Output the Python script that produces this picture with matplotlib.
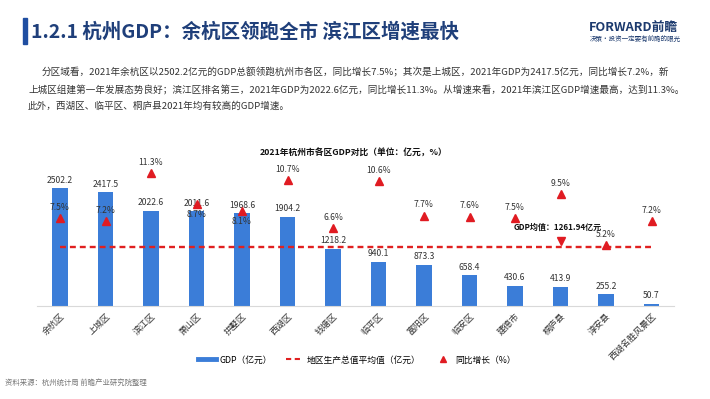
import matplotlib
matplotlib.use("Agg")
import matplotlib.pyplot as plt
import matplotlib.transforms as mtransforms
from matplotlib.lines import Line2D

plt.rcParams['font.family'] = ['Noto Sans CJK SC', 'DejaVu Sans']

districts = ["余杭区", "上城区", "滨江区", "萧山区", "拱墅区", "西湖区", "钱塘区",
             "临平区", "富阳区", "临安区", "建德市", "桐庐县", "淳安县", "西湖名胜风景区"]
gdp = [2502.2, 2417.5, 2022.6, 2011.6, 1968.6, 1904.2, 1218.2,
       940.1, 873.3, 658.4, 430.6, 413.9, 255.2, 50.7]
growth = [7.5, 7.2, 11.3, 8.7, 8.1, 10.7, 6.6, 10.6, 7.7, 7.6, 7.5, 9.5, 5.2, 7.2]
gdp_avg = 1261.94
below_labels = [3, 4]

title = "1.2.1 杭州GDP：余杭区领跑全市 滨江区增速最快"
para = ["分区域看，2021年余杭区以2502.2亿元的GDP总额领跑杭州市各区，同比增长7.5%；其次是上城区，2021年GDP为2417.5亿元，同比增长7.2%，新",
        "上城区组建第一年发展态势良好；滨江区排名第三，2021年GDP为2022.6亿元，同比增长11.3%。从增速来看，2021年滨江区GDP增速最高，达到11.3%。",
        "此外，西湖区、临平区、桐庐县2021年均有较高的GDP增速。"]
chart_title = "2021年杭州市各区GDP对比（单位：亿元，%）"
source = "资料来源：杭州统计局 前瞻产业研究院整理"

W, H = 710, 399
fig = plt.figure(figsize=(W / 100, H / 100), dpi=100)
fig.patch.set_facecolor("white")

def fx(x):
    return x / W

def fy(y):
    return 1 - y / H

# header
fig.patches.append(plt.Rectangle((fx(23), fy(44)), fx(4), 26 / H, transform=fig.transFigure,
                                 color="#1f4ea1", zorder=5))
fig.text(fx(31), fy(32), title, fontsize=14, fontweight="bold", color="#1f3f7a",
         va="center", ha="left")
fig.text(fx(589), fy(27), "FORWARD前瞻", fontsize=9.2, fontweight="bold", color="#1c3a6e",
         va="center", ha="left")
fig.text(fx(590), fy(39), "决策·投资一定要有前瞻的眼光", fontsize=4.7, color="#1c3a6e",
         va="center", ha="left")

# paragraph
fig.text(fx(42), fy(72.5), para[0], fontsize=6.9, color="#333333", va="center", ha="left")
fig.text(fx(28), fy(89.5), para[1], fontsize=6.9, color="#333333", va="center", ha="left")
fig.text(fx(28), fy(106.5), para[2], fontsize=6.9, color="#333333", va="center", ha="left")

# chart title
fig.text(fx(354), fy(153), chart_title, fontsize=6.3, fontweight="bold", color="#111111",
         va="center", ha="center")

# axes
ax = fig.add_axes([fx(37.25), (H - 306) / H, 637 / W, (306 - 165) / H])
x = list(range(len(districts)))
ax.bar(x, gdp, width=0.35, color="#3b7dd8", zorder=2)
ax.set_xlim(-0.5, len(districts) - 0.5)
ax.set_ylim(0, 3000)
ax.plot([0, len(districts) - 1], [gdp_avg, gdp_avg], color="#e02020", lw=1.7,
        dashes=(2.5, 1.7), zorder=3)
for xi, v in zip(x, gdp):
    ax.annotate(f"{v:.1f}", (xi, v), xytext=(0, 2.5), textcoords="offset points",
                ha="center", va="bottom", fontsize=6.2, color="#333333", zorder=6)

ax2 = ax.twinx()
ax2.set_ylim(0, 12)
ax2.plot(x, growth, linestyle="none", marker="^", markersize=5.5, color="#e01b22", zorder=4)
for i, (xi, g) in enumerate(zip(x, growth)):
    if i in below_labels:
        ax2.annotate(f"{g:.1f}%", (xi, g), xytext=(0, -4.5), textcoords="offset points",
                     ha="center", va="top", fontsize=6.2, color="#333333")
    else:
        ax2.annotate(f"{g:.1f}%", (xi, g), xytext=(0, 4.5), textcoords="offset points",
                     ha="center", va="bottom", fontsize=6.2, color="#333333")

# average callout
mk, = ax.plot([11], [gdp_avg], linestyle="none", marker="v", markersize=5.5,
              color="#e01b22", zorder=5)
mk.set_transform(ax.transData + mtransforms.ScaledTranslation(0, 4 / 72, fig.dpi_scale_trans))
ax.annotate(f"GDP均值：{gdp_avg:.2f}亿元", (11, gdp_avg), xytext=(-2, 11),
            textcoords="offset points", ha="center", va="bottom", fontsize=5.8,
            fontweight="bold", color="#111111")

for a in (ax, ax2):
    for s in ("top", "left", "right"):
        a.spines[s].set_visible(False)
    a.set_yticks([])
ax.spines["bottom"].set_color("#d9d9d9")
ax2.spines["bottom"].set_visible(False)
ax.set_xticks(x)
ax.set_xticklabels(districts, rotation=45, ha="right", rotation_mode="anchor",
                   fontsize=6.4, color="#333333")
ax.tick_params(axis="x", length=0, pad=4)

# legend
handles = [Line2D([], [], color="#3b7dd8", lw=3.5),
           Line2D([], [], color="#e02020", lw=1.5, dashes=(2.5, 1.7)),
           Line2D([], [], color="#e01b22", marker="^", markersize=4.5, linestyle="none")]
labels = ["GDP（亿元）", "地区生产总值平均值（亿元）", "同比增长（%）"]
fig.legend(handles, labels, loc="center", bbox_to_anchor=(fx(357), fy(360)), ncol=3,
           frameon=False, fontsize=6.3, handlelength=2.0, columnspacing=1.6,
           handletextpad=0.4)

fig.text(fx(5), fy(383), source, fontsize=5.3, color="#777777", va="center", ha="left")

fig.savefig("out.png", dpi=100, facecolor="white")
